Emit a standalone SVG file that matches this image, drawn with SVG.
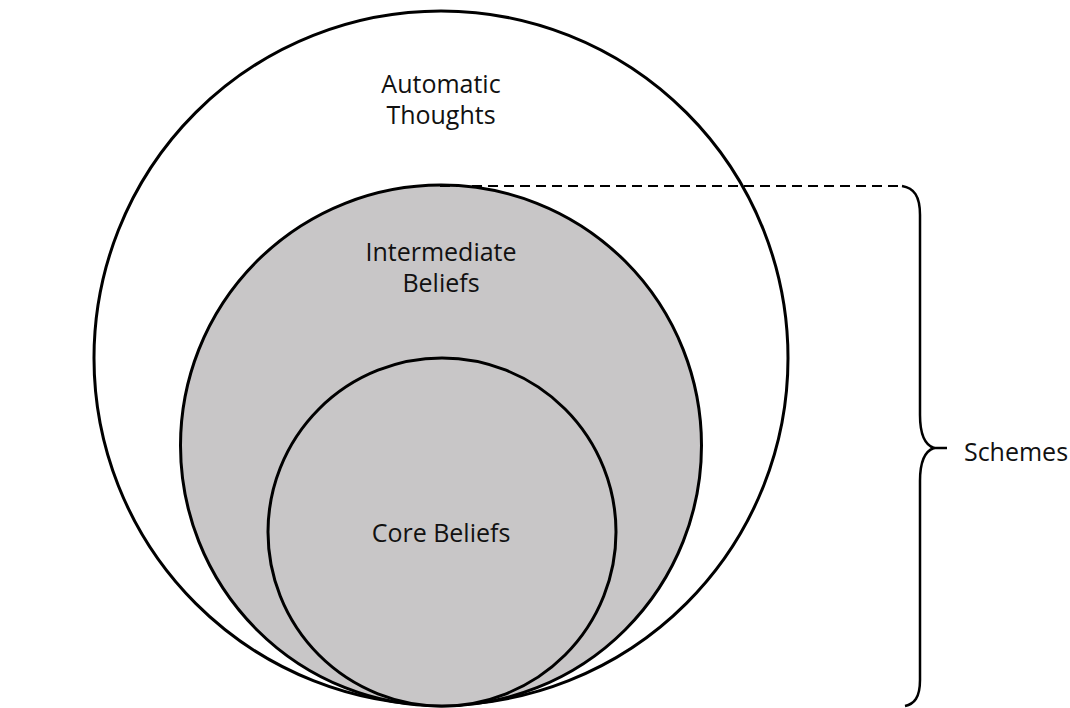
<svg xmlns="http://www.w3.org/2000/svg" width="1070" height="708" viewBox="0 0 1070 708">
<style>
.c{stroke:#000;stroke-width:3}
.g{fill:#c8c6c7}
.t{font-family:"Open Sans","Noto Sans",sans-serif;font-size:25px;fill:#111;text-anchor:middle}
</style>
<rect width="1070" height="708" fill="#fff"/>
<g id="automatic-thoughts">
<circle class="c" cx="441" cy="358" r="347" fill="#fff"/>
<text class="t" x="441" y="93">Automatic</text>
<text class="t" x="441" y="124">Thoughts</text>
</g>
<g id="intermediate-beliefs">
<circle class="c g" cx="441" cy="445.5" r="260.5"/>
<text class="t" x="441" y="261">Intermediate</text>
<text class="t" x="441" y="292">Beliefs</text>
</g>
<g id="core-beliefs">
<circle class="c g" cx="442" cy="532" r="174"/>
<text class="t" x="441" y="542">Core Beliefs</text>
</g>
<g id="connectors" fill="none" stroke="#000">
<line x1="440" y1="186" x2="902" y2="186" stroke-width="2" stroke-dasharray="10,6"/>
<path d="M902 186 C914 188 920 196 920 215 L920 415 C920 436 925 445 934 448 C925 451 920 460 920 481 L920 680 C920 698 914 704 905 706" stroke-width="2.5"/>
<line x1="934" y1="448" x2="947" y2="448" stroke-width="2.5"/>
</g>
<g id="schemes">
<text class="t" x="1016" y="461">Schemes</text>
</g>
</svg>
